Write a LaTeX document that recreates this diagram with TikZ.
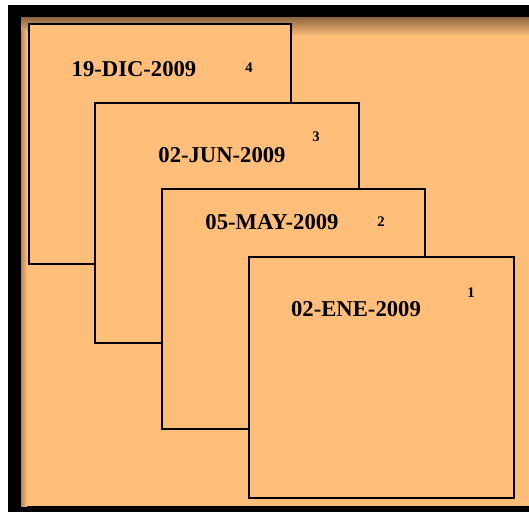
\documentclass[tikz,border=0pt]{standalone}
\usepackage{fontspec}
\setmainfont{Liberation Serif}
\begin{document}
\begin{tikzpicture}[x=0.75pt,y=-0.75pt,
  card/.style={draw=black,line width=1.5pt,fill=peach},
  datelbl/.style={font=\bfseries\fontsize{17}{18}\selectfont,inner sep=0pt},
  numlbl/.style={font=\bfseries\fontsize{11}{12}\selectfont,inner sep=0pt}]
\definecolor{peach}{HTML}{FFBE7A}
\definecolor{shade}{HTML}{8A6440}
\useasboundingbox (0,0) rectangle (529,512);
\fill[white] (0,0) rectangle (529,512);
\fill[black] (8,5) rectangle (529,512);
\fill[peach] (21,17) rectangle (529,506);
\shade[top color=shade,bottom color=peach] (21,17) rectangle (529,36);
\shade[left color=shade!60!peach,right color=peach] (21,30) rectangle (27,506);
% cards
\path[card] (29,24) rectangle (291,264);
\path[card] (95,103) rectangle (359,343);
\path[card] (162,189) rectangle (425,429);
\path[card] (249,257) rectangle (514,498);
\node[datelbl] (d4) at (134,69) {19-DIC-2009};
\node[numlbl] (n4) at (249,68) {4};
\node[datelbl] (d3) at (222,155) {02-JUN-2009};
\node[numlbl] (n3) at (316,137) {3};
\node[datelbl] (d2) at (272,222) {05-MAY-2009};
\node[numlbl] (n2) at (381,222) {2};
\node[datelbl] (d1) at (356,309) {02-ENE-2009};
\node[numlbl] (n1) at (471,293) {1};
\end{tikzpicture}
\end{document}
